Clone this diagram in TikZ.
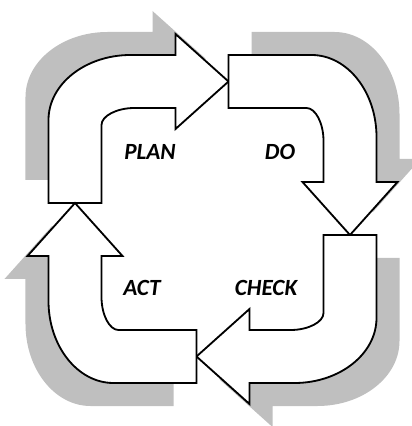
\documentclass[tikz,border=0pt]{standalone}
\usepackage{fontspec}
\setsansfont{Carlito}
\usepackage{tikz}
\usetikzlibrary{positioning}

% one bent arrow of the cycle, as it sits in the upper left corner
\newcommand{\bentarrow}{(-164,16) -- (-164,99) .. controls (-164,135) and (-127,164) .. (-82,164) -- (-37,164) -- (-37,185) -- (16,137.5) -- (-37,90) -- (-37,111) -- (-78,111) .. controls (-96,111) and (-111,103) .. (-111,94) -- (-111,16) -- cycle}

\begin{document}
\begin{tikzpicture}[x=0.025cm, y=0.025cm, font=\sffamily\bfseries\itshape\fontsize{16.5}{18}\selectfont,
  arrowbody/.style={draw, fill=white, line width=1.3pt, line join=miter},
  arrowshadow/.style={fill=black!25}]
  \useasboundingbox (-212.5,-207) rectangle (199.5,219);

  % grey shadows behind the arrows
  \fill[arrowshadow, rotate=0,    shift={(-23,23)}] \bentarrow;
  \fill[arrowshadow, rotate=-90,  shift={(-23,23)}] \bentarrow;
  \fill[arrowshadow, rotate=-180, shift={(-23,23)}] \bentarrow;
  \fill[arrowshadow, rotate=-270, shift={(-23,23)}] \bentarrow;

  \path[arrowbody, rotate=0]    \bentarrow;
  \path[arrowbody, rotate=-90]  \bentarrow;
  \path[arrowbody, rotate=-180] \bentarrow;
  \path[arrowbody, rotate=-270] \bentarrow;

  \node (plan)  at (-62.5, 67) {PLAN};
  \node (do)    at ( 67.5, 67) {DO};
  \node (check) at ( 53.5,-69) {CHECK};
  \node (act)   at (-70.5,-69) {ACT};
\end{tikzpicture}
\end{document}
